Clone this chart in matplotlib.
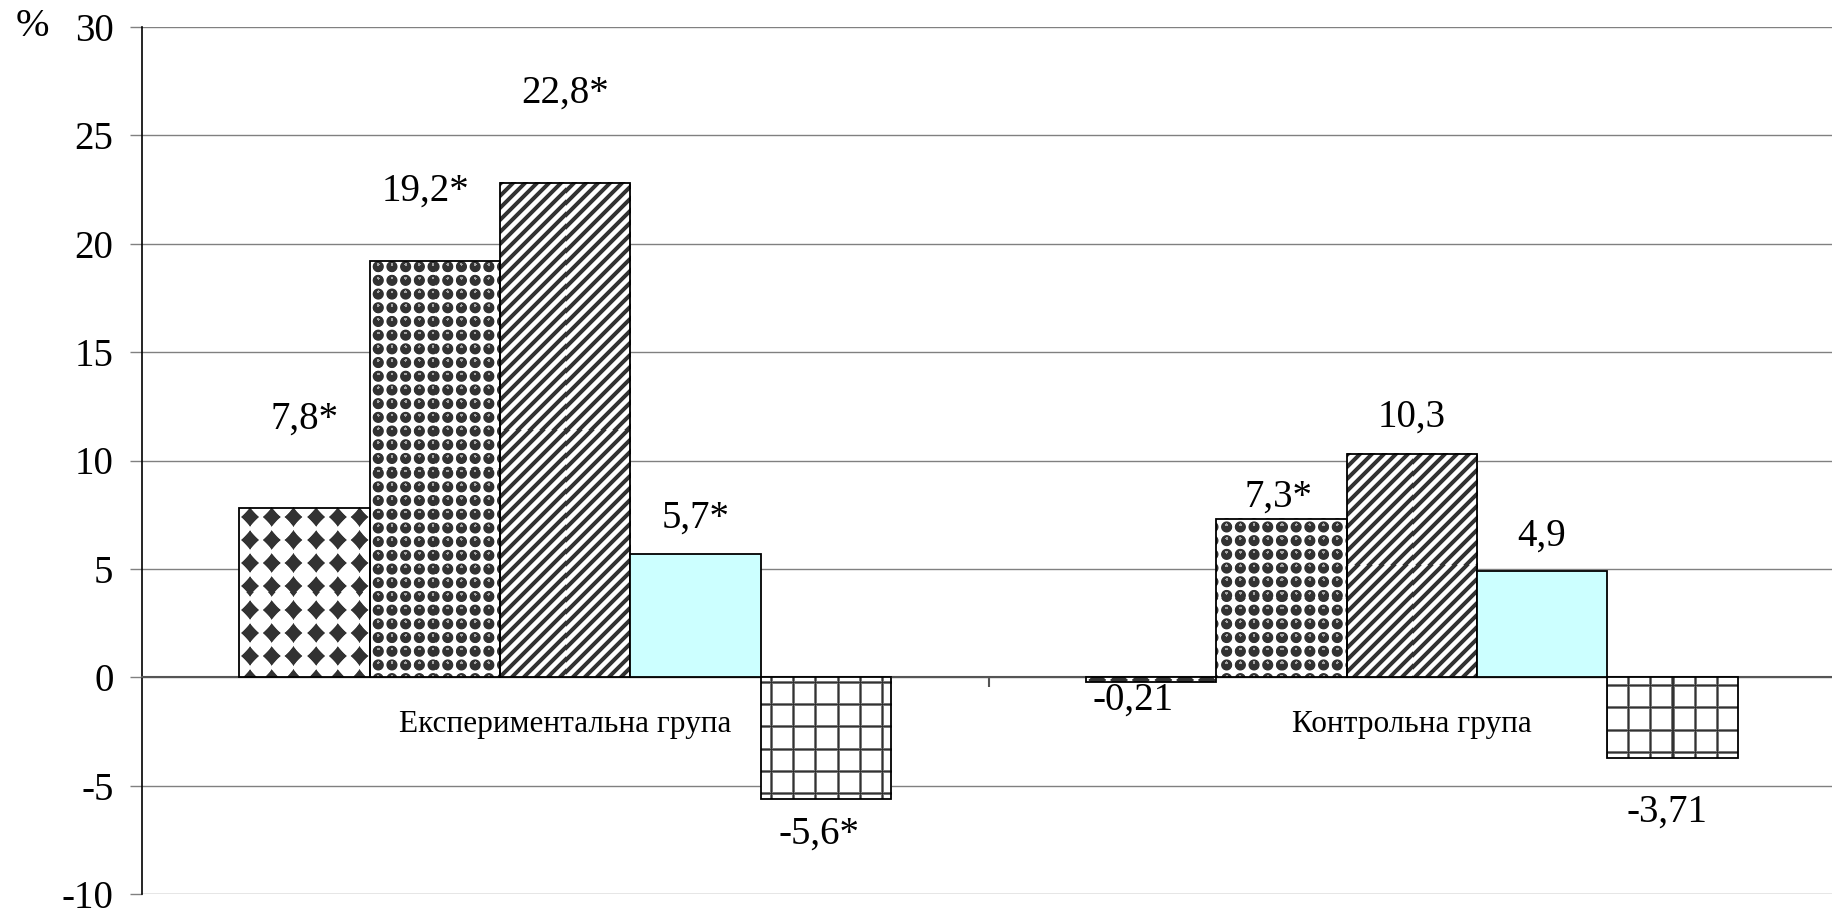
import numpy as np
import matplotlib
matplotlib.use('Agg')
import matplotlib.pyplot as plt

plt.rcParams['font.family'] = ['Liberation Serif', 'DejaVu Serif']

# data
groups = ['Експериментальна група', 'Контрольна група']
s1 = [7.8, -0.21]
s2 = [19.2, 7.3]
s3 = [22.8, 10.3]
s4 = [5.7, 4.9]
s5 = [-5.6, -3.71]
lab1 = ['7,8*', '-0,21']
lab2 = ['19,2*', '7,3*']
lab3 = ['22,8*', '10,3']
lab4 = ['5,7*', '4,9']
lab5 = ['-5,6*', '-3,71']
yticks = [-10, -5, 0, 5, 10, 15, 20, 25, 30]

series = [s1, s2, s3, s4, s5]
labels = [lab1, lab2, lab3, lab4, lab5]
kinds = ['diamond', 'spheres', 'stripes', 'plain', 'grid']
# label offsets (pixels): dx, distance from bar end
offs = [[(0, 89), (-18, 18)],
        [(-9, 70), (-3, 22)],
        [(0, 90), (0, 37)],
        [(0, 36), (0, 35)],
        [(-7, 36), (-5, 54)]]


def texture(kind, w, h, x0, y0):
    # fill pattern in pixel space, like the excel pattern fills
    yy, xx = np.mgrid[0:h, 0:w]
    xx = xx + x0
    yy = yy + y0
    if kind == 'diamond':
        dx = np.abs((xx % 21.7) - 10.85) / 9.8
        dy = np.abs((yy % 23) - 11.5) / 10.6
        d = dx**0.9 + dy**0.9
        dark = np.clip((1.0 - d) / 0.12, 0, 1)
    elif kind == 'spheres':
        cx = (xx % 13.7) - 6.85
        cy = (yy % 13.7) - 6.85
        r = np.sqrt(cx**2 + cy**2)
        dark = np.clip((6.0 - r) / 0.9, 0, 1)
        hl = np.sqrt(cx**2 + (cy + 2.2)**2) < 1.4
        dark = np.where(hl, dark * 0.45, dark)
    elif kind == 'stripes':
        v = 0.5 + 0.5 * np.cos(2 * np.pi * (xx + yy) / 12)
        dark = np.clip((v - 0.4) / 0.3, 0, 1)
    else:
        gx = xx % 22
        gy = yy % 22
        dl = np.minimum(np.minimum(gx, 22 - gx), np.minimum(gy, 22 - gy))
        dark = np.clip((2.0 - dl) / 1.5, 0, 1)
    g = 1 - dark * 0.8
    return np.dstack([g, g, g])


fig = plt.figure(figsize=(18.32, 9.10), dpi=100)
ax = fig.add_axes([142 / 1832, 16 / 910, 1693 / 1832, 867 / 910])
ax.set_xlim(-0.5, 1.5)
ax.set_ylim(-10, 30)

w = 0.154
x = np.arange(len(groups))
for k, vals in enumerate(series):
    pos = x + (k - 2) * w
    if kinds[k] == 'plain':
        bars = ax.bar(pos, vals, w, color='#ccffff', edgecolor='black', lw=1.3, zorder=3)
    else:
        bars = ax.bar(pos, vals, w, facecolor='none', edgecolor='black', lw=1.3, zorder=3)
        for b in bars:
            bb = b.get_window_extent()
            pw = max(int(round(bb.width)), 1)
            ph = max(int(round(bb.height)), 1)
            tex = texture(kinds[k], pw, ph, int(bb.x0), int(910 - bb.y1))
            bx, by = b.get_x(), b.get_y()
            ax.imshow(tex, extent=[bx, bx + b.get_width(), by, by + b.get_height()],
                      aspect='auto', interpolation='nearest', origin='upper', zorder=2.8)
    for i, b in enumerate(bars):
        v = vals[i]
        dx, dy = offs[k][i]
        sgn = 1 if v >= 0 else -1
        ax.annotate(labels[k][i], xy=(b.get_x() + w / 2, v),
                    xytext=(dx * 0.72, sgn * dy * 0.72), textcoords='offset points',
                    ha='center', va='center', fontsize=28)

ax.set_xlim(-0.5, 1.5)
ax.set_ylim(-10, 30)

for i, g in enumerate(groups):
    ax.annotate(g, xy=(i, 0), xytext=(0, -47 * 0.72), textcoords='offset points',
                ha='center', va='center', fontsize=22.5)

ax.set_yticks(yticks)
ax.set_yticklabels([str(t) for t in yticks])
ax.yaxis.grid(True, color='#808080', lw=1)
ax.set_axisbelow(True)
ax.tick_params(axis='y', direction='out', length=8.6, width=1, color='#808080',
               pad=12, labelsize=28)
ax.set_xticks([0.5])
ax.set_xticklabels([''])
ax.tick_params(axis='x', direction='out', length=7.2, width=1.5, color='#555555')

ax.spines['top'].set_visible(False)
ax.spines['right'].set_visible(False)
ax.spines['left'].set_color('black')
ax.spines['left'].set_linewidth(1.2)
ax.spines['bottom'].set_position(('data', 0))
ax.spines['bottom'].set_color('#555555')
ax.spines['bottom'].set_linewidth(1.5)

fig.text(32 / 1832, 1 - 27 / 910, '%', ha='center', va='center', fontsize=29)

fig.savefig('out.png', dpi=100)
